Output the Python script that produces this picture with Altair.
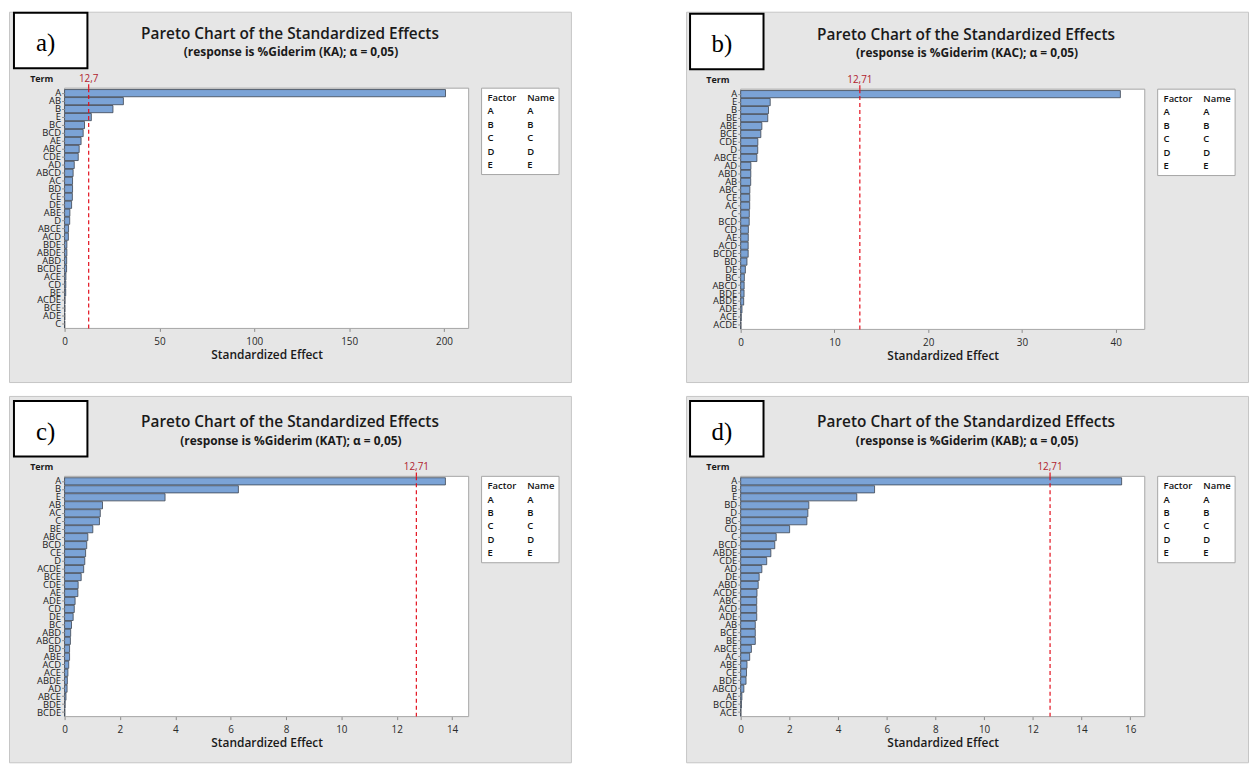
import altair as alt
import pandas as pd

# ---------------- data ----------------
panel_labels = ["a)", "b)", "c)", "d)"]
responses = ["KA", "KAC", "KAT", "KAB"]
chart_title = "Pareto Chart of the Standardized Effects"
subtitles = ["(response is %Giderim (" + r + "); α = 0,05)" for r in responses]
thresholds = [12.7, 12.71, 12.71, 12.71]
threshold_labels = ["12,7", "12,71", "12,71", "12,71"]
x_max = [213, 43.1, 14.6, 16.6]
x_ticks = [
    [0, 50, 100, 150, 200],
    [0, 10, 20, 30, 40],
    [0, 2, 4, 6, 8, 10, 12, 14],
    [0, 2, 4, 6, 8, 10, 12, 14, 16],
]
factors = ["A", "B", "C", "D", "E"]
names = ["A", "B", "C", "D", "E"]

terms_a = ["A", "AB", "B", "E", "BC", "BCD", "AE", "ABC", "CDE", "AD", "ABCD", "AC", "BD", "CE", "DE",
           "ABE", "D", "ABCE", "ACD", "BDE", "ABDE", "ABD", "BCDE", "ACE", "CD", "BE", "ACDE", "BCE", "ADE", "C"]
effects_a = [200.8, 31.0, 25.5, 14.1, 10.5, 9.8, 8.7, 7.7, 7.2, 5.1, 4.5, 4.2, 4.2, 4.1, 3.7,
             2.8, 2.7, 2.1, 2.0, 1.2, 1.2, 1.1, 1.05, 0.7, 0.65, 0.6, 0.25, 0.2, 0.15, 0.1]

terms_b = ["A", "E", "B", "BE", "ABE", "BCE", "CDE", "D", "ABCE", "AD", "ABD", "AB", "ABC", "CE", "AC",
           "C", "BCD", "CD", "AE", "ACD", "BCDE", "BD", "DE", "BC", "ABCD", "BDE", "ABDE", "ADE", "ACE", "ACDE"]
effects_b = [40.5, 3.15, 2.97, 2.89, 2.26, 2.15, 1.83, 1.82, 1.73, 1.09, 1.08, 1.07, 0.98, 0.97, 0.96,
             0.92, 0.91, 0.82, 0.81, 0.80, 0.80, 0.67, 0.50, 0.39, 0.37, 0.36, 0.32, 0.14, 0.06, 0.03]

terms_c = ["A", "B", "E", "AB", "AC", "C", "BE", "ABC", "BCD", "CE", "D", "ACDE", "BCE", "CDE", "AE",
           "ADE", "CD", "DE", "BC", "ABD", "ABCD", "BD", "ABE", "ACD", "ACE", "ABDE", "AD", "ABCE", "BDE", "BCDE"]
effects_c = [13.76, 6.28, 3.63, 1.37, 1.29, 1.26, 1.02, 0.84, 0.80, 0.76, 0.73, 0.69, 0.60, 0.49, 0.48,
             0.38, 0.35, 0.31, 0.25, 0.22, 0.21, 0.18, 0.18, 0.15, 0.12, 0.10, 0.09, 0.05, 0.02, 0.01]

terms_d = ["A", "B", "E", "BD", "D", "BC", "CD", "C", "BCD", "ABDE", "CDE", "AD", "DE", "ABD", "ACDE",
           "ABC", "ACD", "ADE", "AB", "BCE", "BE", "ABCE", "AC", "ABE", "CE", "BDE", "ABCD", "AE", "BCDE", "ACE"]
effects_d = [15.65, 5.5, 4.77, 2.80, 2.76, 2.72, 2.01, 1.46, 1.40, 1.24, 1.07, 0.87, 0.76, 0.72, 0.67,
             0.66, 0.66, 0.66, 0.60, 0.60, 0.60, 0.44, 0.37, 0.26, 0.24, 0.22, 0.13, 0.05, 0.03, 0.01]

all_terms = [terms_a, terms_b, terms_c, terms_d]
all_effects = [effects_a, effects_b, effects_c, effects_d]

# ---------------- layout ----------------
W = 566
H_TOP, H_BOT = 373, 369
origins = [(8, 8), (688, 8), (8, 393), (688, 393)]
heights = [H_TOP, H_TOP, H_BOT, H_BOT]
shifts = [(0, 0), (679, 1), (0, 389), (679, 389)]

FONT = "Open Sans"
BAR_FILL = "#7ba3d6"
BAR_STROKE = "#3d4450"
RED_LINE = "#e3101e"
RED_TEXT = "#b01c2e"


def one():
    return pd.DataFrame({"k": [0]})


def make_panel(i):
    ox, oy = origins[i]
    dx, dy = shifts[i]
    H = heights[i]

    def X(v):
        return v + dx - ox

    def Y(v):
        return v + dy - oy

    pl, pr, pt, pb = X(64), X(471), Y(85), Y(327)

    df = pd.DataFrame({"term": all_terms[i], "effect": all_effects[i]})

    xenc = alt.X(
        "effect:Q",
        scale=alt.Scale(domain=[0, x_max[i]], range=[pl, pr], nice=False, zero=True),
        axis=alt.Axis(
            values=x_ticks[i], title="Standardized Effect", offset=pb - H, grid=False,
            domain=False, ticks=True, tickSize=3, tickColor="#8a8a8a", labelFontSize=10,
            labelPadding=5, labelColor="#2a2a2a", labelFont=FONT, labelFlush=False,
            titleFont=FONT, titleFontSize=12, titleFontWeight=600, titleColor="#1a1a1a",
            titlePadding=3, format="d", zindex=1,
        ),
    )
    yenc = alt.Y(
        "term:N",
        sort=all_terms[i],
        scale=alt.Scale(range=[Y(86), Y(327)], paddingInner=0.1, paddingOuter=0.05),
        axis=alt.Axis(
            title=None, orient="left", offset=-pl, domain=False, ticks=True, tickSize=3,
            tickColor="#8a8a8a", labelFontSize=9.5, labelPadding=1, labelOverlap=False,
            labelColor="#1a1a1a", labelFont=FONT, zindex=1,
        ),
    )

    frame = alt.Chart(one()).mark_rect(fill="white", stroke="#a6a6a6", strokeWidth=1).encode(
        x=alt.value(pl), x2=alt.value(pr), y=alt.value(pt), y2=alt.value(pb)
    )
    legend_box = alt.Chart(one()).mark_rect(fill="white", stroke="#a6a6a6", strokeWidth=1).encode(
        x=alt.value(X(484)), x2=alt.value(X(562)), y=alt.value(Y(85)), y2=alt.value(Y(172))
    )
    label_box = alt.Chart(one()).mark_rect(fill="white", stroke="#000000", strokeWidth=2).encode(
        x=alt.value(X(13)), x2=alt.value(X(87)), y=alt.value(Y(9)), y2=alt.value(Y(65))
    )

    bars = alt.Chart(df).mark_bar(fill=BAR_FILL, stroke=BAR_STROKE, strokeWidth=0.8).encode(
        x=xenc, y=yenc
    )

    thr_df = pd.DataFrame({"effect": [thresholds[i]], "lab": [threshold_labels[i]]})
    rule = alt.Chart(thr_df).mark_rule(color=RED_LINE, strokeDash=[4, 3], strokeWidth=1.2).encode(
        x=xenc, y=alt.value(pt), y2=alt.value(pb)
    )
    rule_tick = alt.Chart(thr_df).mark_rule(color=RED_LINE, strokeWidth=1.2).encode(
        x=xenc, y=alt.value(pt - 4), y2=alt.value(pt)
    )
    rule_lab = alt.Chart(thr_df).mark_text(
        font=FONT, fontSize=10, color=RED_TEXT, baseline="middle", align="center"
    ).encode(x=xenc, y=alt.value(Y(76)), text="lab:N")

    def text_layer(txt, x, y, size, weight="normal", font=FONT, color="#1a1a1a", align="center"):
        return alt.Chart(pd.DataFrame({"t": [txt]})).mark_text(
            font=font, fontSize=size, fontWeight=weight, color=color, align=align,
            baseline="middle", lineBreak="\n", lineHeight=13.5,
        ).encode(x=alt.value(x), y=alt.value(y), text="t:N")

    title = text_layer(chart_title, X(291), Y(30), 15.5, 600)
    subtitle = text_layer(subtitles[i], X(292), Y(49), 12, "bold")
    term_t = text_layer("Term", X(41), Y(76), 9, "bold")
    plabel = text_layer(panel_labels[i], X(45), Y(40), 25, "normal", font="Liberation Serif",
                        color="#000000")
    fac_col = text_layer("\n".join(["Factor"] + factors), X(490), Y(95), 9.5, 600,
                         color="#111111", align="left")
    name_col = text_layer("\n".join(["Name"] + names), X(530), Y(95), 9.5, 600,
                          color="#111111", align="left")

    return alt.layer(
        frame, legend_box, label_box, bars, rule, rule_tick, rule_lab,
        title, subtitle, term_t, plabel, fac_col, name_col,
    ).properties(width=W, height=H)


panels = [make_panel(i) for i in range(4)]
row1 = alt.hconcat(panels[0], panels[1], spacing=114)
row2 = alt.hconcat(panels[2], panels[3], spacing=114)
chart = (
    alt.vconcat(row1, row2, spacing=12)
    .properties(padding=0, background="white")
    .configure_view(fill="#e6e6e6", stroke="#c6c6c6", strokeWidth=1)
)

chart.save("out.html", embed_options={"renderer": "svg", "actions": False})
